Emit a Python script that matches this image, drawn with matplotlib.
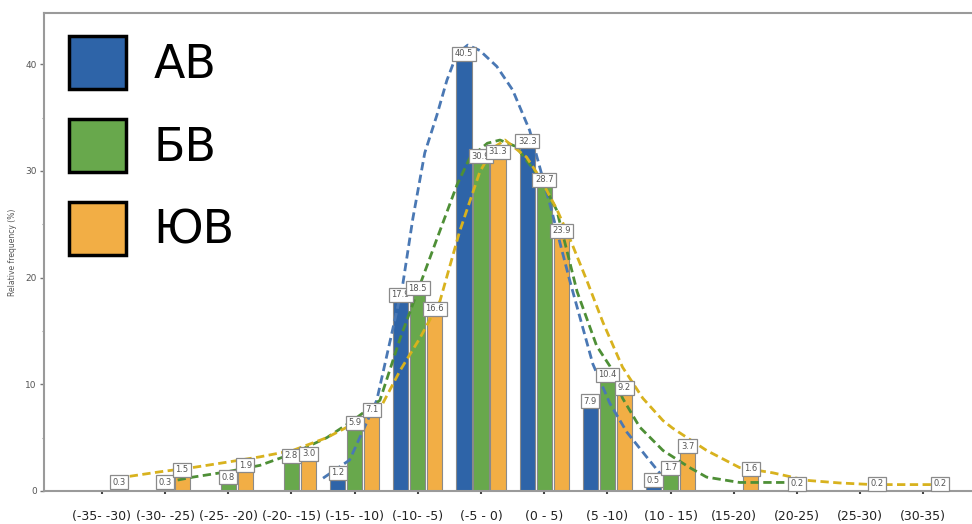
import matplotlib.pyplot as plt
from matplotlib.patches import Patch
from matplotlib.ticker import MultipleLocator
import numpy as np

# интервалы и частоты (%)
groups = ['(-35- -30)', '(-30- -25)', '(-25- -20)', '(-20- -15)', '(-15- -10)',
          '(-10- -5)', '(-5 - 0)', '(0 - 5)', '(5 -10)', '(10 - 15)',
          '(15-20)', '(20-25)', '(25-30)', '(30-35)']
ab = [0, 0, 0, 0, 1.2, 17.9, 40.5, 32.3, 7.9, 0.5, 0, 0, 0, 0]
bv = [0, 0.3, 0.8, 2.8, 5.9, 18.5, 30.9, 28.7, 10.4, 1.7, 0, 0.2, 0, 0]
yuv = [0.3, 1.5, 1.9, 3.0, 7.1, 16.6, 31.3, 23.9, 9.2, 3.7, 1.6, 0, 0.2, 0.2]

# пунктирные кривые (x в номерах интервалов)
ab_cx = [3.50, 3.92, 4.35, 4.76, 4.92, 5.11, 5.30, 5.46, 5.62, 5.79, 5.98, 6.25,
         6.50, 6.77, 7.09, 7.41, 7.77, 8.04, 8.31, 8.62, 8.88]
ab_cy = [1.2, 2.9, 8.5, 19.3, 25.5, 31.7, 35.2, 38.5, 41.0, 41.8, 41.3, 39.8,
         37.6, 33.8, 26.9, 19.6, 11.9, 8.2, 5.5, 3.2, 1.3]
bv_cx = [1.00, 1.44, 1.98, 2.50, 3.02, 3.56, 3.97, 4.40, 4.72, 4.92, 5.30, 5.62,
         5.82, 6.10, 6.30, 6.55, 6.93, 7.20, 7.52, 7.83, 8.04, 8.24, 8.51, 8.88,
         9.30, 9.57, 10.09, 10.62, 11.0]
bv_cy = [0.8, 1.3, 1.8, 2.4, 3.5, 5.0, 6.6, 8.5, 14.3, 17.5, 23.6, 28.7,
         31.2, 32.6, 32.9, 32.3, 29.4, 26.3, 18.7, 13.6, 11.7, 8.7, 6.0, 3.8,
         2.2, 1.3, 0.8, 0.8, 0.8]
yuv_cx = [0.24, 0.92, 1.44, 1.98, 2.50, 3.02, 3.56, 4.08, 4.40, 4.72, 5.03, 5.35,
          5.66, 5.98, 6.20, 6.38, 6.72, 6.93, 7.20, 7.41, 7.67, 7.93, 8.24, 8.56,
          8.88, 9.03, 9.57, 10.09, 10.62, 11.15, 11.68, 12.2, 13.26]
yuv_cy = [1.2, 1.8, 2.2, 2.7, 3.2, 3.8, 5.0, 6.6, 7.7, 11.3, 14.3, 17.8,
          24.3, 29.9, 32.2, 32.9, 31.3, 29.4, 26.4, 23.6, 19.8, 15.8, 11.6, 8.7,
          6.6, 5.9, 3.8, 2.2, 1.7, 1.0, 0.75, 0.6, 0.6]

c_blue = '#2e64a8'
c_green = '#68a84c'
c_orange = '#f2ae45'

fig = plt.figure(figsize=(9.72, 5.24), dpi=100)
ax = fig.add_axes([0.045, 0.063, 0.955, 0.912])

x = np.arange(len(groups))
w = 0.24
off = 0.27
for vals, dx, col in [(ab, -off, c_blue), (bv, 0, c_green), (yuv, off, c_orange)]:
    vals = np.array(vals, dtype=float)
    m = vals > 0
    ax.bar(x[m] + dx, vals[m], width=w, color=col, edgecolor='#8a8a8a',
           linewidth=0.8, zorder=2)

ax.plot(ab_cx, ab_cy, color='#4a78b4', lw=2, dashes=(3, 1.6), zorder=3)
ax.plot(bv_cx, bv_cy, color='#4e8f36', lw=2, dashes=(3, 1.6), zorder=3)
ax.plot(yuv_cx, yuv_cy, color='#d8b21e', lw=2, dashes=(3, 1.6), zorder=3)

for vals, dx in [(ab, -off), (bv, 0), (yuv, off)]:
    for i, v in enumerate(vals):
        if v > 0:
            ax.text(x[i] + dx, v + 0.5, f'{v:.1f}', ha='center', va='center',
                    fontsize=6, color='#555555', zorder=4,
                    bbox=dict(boxstyle='square,pad=0.3', fc='white',
                              ec='#8a8a8a', lw=0.9))

ax.set_xlim(-0.92, 13.77)
ax.set_ylim(0, 44.8)
ax.set_xticks(x)
ax.set_xticklabels(groups, fontsize=9, color='#222222')
ax.tick_params(axis='x', length=2, width=1.5, color='#444444', pad=12)
ax.yaxis.set_major_locator(MultipleLocator(10))
ax.yaxis.set_minor_locator(MultipleLocator(5))
ax.tick_params(axis='y', which='major', length=3, width=1, color='#777777',
               labelsize=6.5, labelcolor='#555555', pad=2)
ax.tick_params(axis='y', which='minor', length=1.5, width=0.8, color='#999999')
ax.set_ylabel('Relative frequency (%)', fontsize=5.5, color='#555555', labelpad=6)

for s in ['left', 'bottom', 'top']:
    ax.spines[s].set_color('#9a9a9a')
    ax.spines[s].set_linewidth(1.5)
ax.spines['right'].set_visible(False)

handles = [Patch(facecolor=c, edgecolor='black', linewidth=2.5)
           for c in [c_blue, c_green, c_orange]]
ax.legend(handles, ['АВ', 'БВ', 'ЮВ'], loc='upper left',
          bbox_to_anchor=(0.007, 0.99), frameon=False, fontsize=33,
          handlelength=1.25, handleheight=1.4, handletextpad=0.6,
          labelspacing=0.65, borderaxespad=0)

fig.savefig('out.png', dpi=100)
